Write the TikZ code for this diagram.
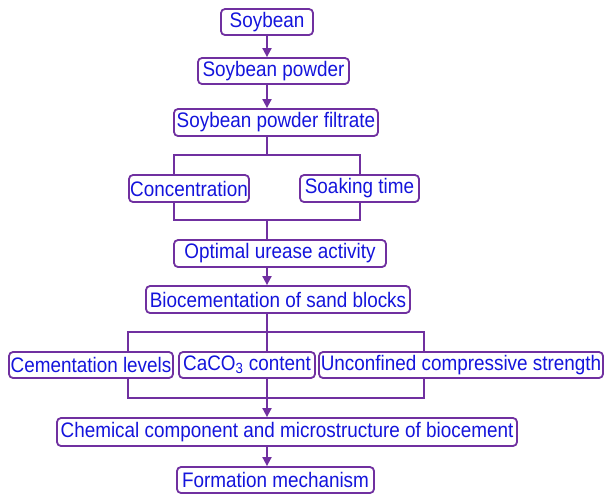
\documentclass[tikz,border=0pt]{standalone}
\usepackage{fontspec}
\setmainfont{Liberation Sans}[FakeStretch=0.9]
\usetikzlibrary{arrows.meta}
\definecolor{boxline}{RGB}{112,48,160}
\definecolor{boxtext}{RGB}{20,20,220}
\tikzset{stagebox/.style={draw=boxline, line width=1.8pt, rounded corners=4pt, fill=white, text=boxtext, inner sep=0pt, font=\fontsize{21}{24}\selectfont},
flowline/.style={draw=boxline, line width=1.8pt},
flowarrow/.style={flowline, -{Triangle[length=9pt,width=9pt]}}}

\begin{document}
\begin{tikzpicture}[x=1pt,y=-1pt]
\useasboundingbox (0,0) rectangle (604,496);
\node[stagebox, minimum width=92pt, minimum height=26pt] (soy) at (267,22) {Soybean};
\node[stagebox, minimum width=151pt, minimum height=26pt] (powder) at (273.5,71) {Soybean powder};
\node[stagebox, minimum width=204pt, minimum height=27pt] (filtrate) at (276,122.5) {Soybean powder filtrate};
\node[stagebox, minimum width=120pt, minimum height=27pt] (conc) at (189,188.5) {Concentration};
\node[stagebox, minimum width=119pt, minimum height=27pt] (soak) at (359.5,188.5) {Soaking time};
\node[stagebox, minimum width=212pt, minimum height=27pt] (urease) at (280,253.5) {Optimal urease activity};
\node[stagebox, minimum width=264pt, minimum height=27pt] (bio) at (278,299.5) {Biocementation of sand blocks};
\node[stagebox, minimum width=164pt, minimum height=26pt] (cem) at (91,365) {Cementation levels};
\node[stagebox, minimum width=136pt, minimum height=26pt] (caco) at (247,365) {CaCO\textsubscript{3} content};
\node[stagebox, minimum width=284pt, minimum height=26pt] (ucs) at (461,365) {Unconfined compressive strength};
\node[stagebox, minimum width=460pt, minimum height=28pt] (chem) at (287,432) {Chemical component and microstructure of biocement};
\node[stagebox, minimum width=197pt, minimum height=26pt] (form) at (275.5,480) {Formation mechanism};

\coordinate (s1) at (267,155);
\coordinate (s1l) at (174,155);
\coordinate (s1r) at (360,155);
\coordinate (j1) at (267,220);
\coordinate (j1l) at (174,220);
\coordinate (j1r) at (360,220);
\coordinate (s2l) at (128,332);
\coordinate (s2r) at (424,332);
\coordinate (j2l) at (128,398);
\coordinate (j2r) at (424,398);

\draw[flowarrow] (soy) -- (soy |- powder.north);
\draw[flowarrow] (soy |- powder.south) -- (soy |- filtrate.north);
\draw[flowline] (soy |- filtrate.south) -- (s1);
\draw[flowline] (s1l |- conc.north) -- (s1l) -- (s1r) -- (s1r |- soak.north);
\draw[flowline] (j1l |- conc.south) -- (j1l) -- (j1r) -- (j1r |- soak.south);
\draw[flowline] (j1) -- (j1 |- urease.north);
\draw[flowarrow] (soy |- urease.south) -- (soy |- bio.north);
\draw[flowline] (soy |- bio.south) -- (soy |- caco.north);
\draw[flowline] (s2l |- cem.north) -- (s2l) -- (s2r) -- (s2r |- ucs.north);
\draw[flowline] (j2l |- cem.south) -- (j2l) -- (j2r) -- (j2r |- ucs.south);
\draw[flowarrow] (soy |- caco.south) -- (soy |- chem.north);
\draw[flowarrow] (soy |- chem.south) -- (soy |- form.north);
\end{tikzpicture}
\end{document}
